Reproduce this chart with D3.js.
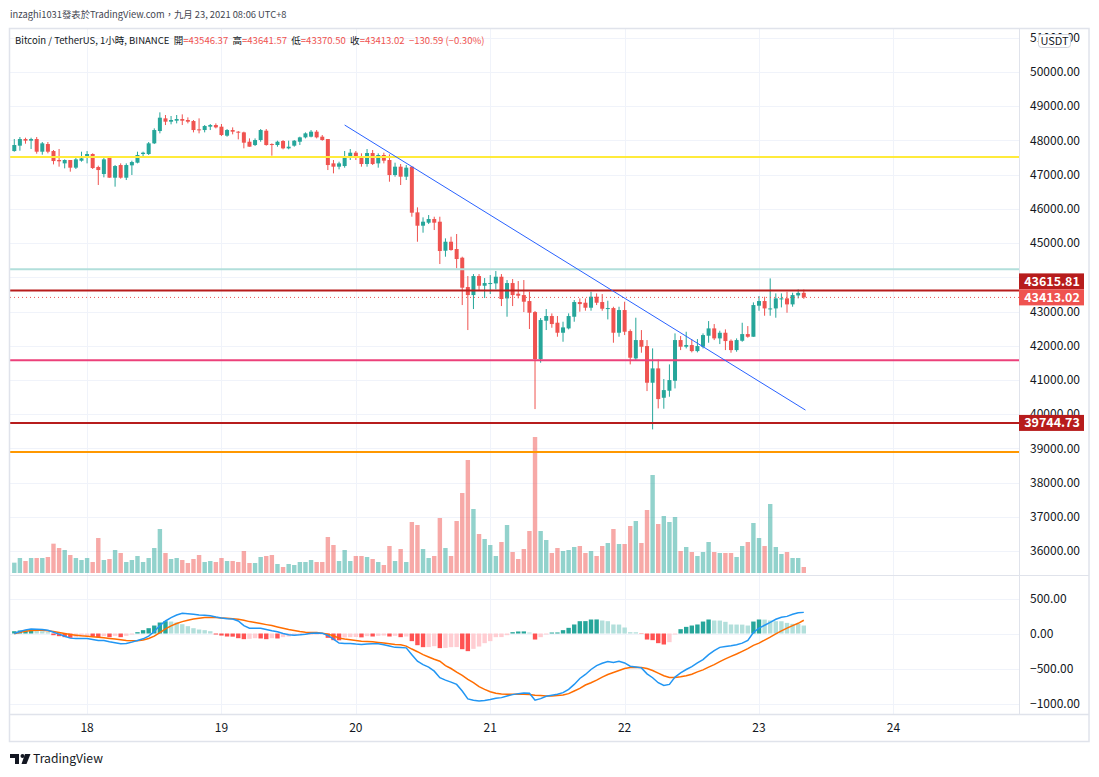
<!DOCTYPE html>
<html>
<head>
<meta charset="utf-8">
<script src="https://cdn.jsdelivr.net/npm/d3@7.9.0/dist/d3.min.js"></script>
<style>
  body { margin: 0; background: #fff; }
  svg { display: block; font-family: "Noto Sans CJK TC", "Noto Sans", sans-serif; }
</style>
</head>
<body>
<div id="chart"></div>
<script>
// hourly BTC/USDT candles, first bar 17 Sep 11:00, last bar 23 Sep 08:00
const opens = [47690,47847,48041,47993,48041,47671,47895,47690,47428,47330,47428,47204,47408,47505,47603,47223,47018,47505,46911,47281,
  46911,47272,47350,47603,47603,47915,48275,48645,48548,48577,48626,48597,48567,48324,48304,48402,48450,48402,48139,48304,
  48256,48236,47963,47866,48012,48285,47895,47866,47983,47769,47847,47963,48090,48110,48256,48110,48041,47330,47233,47252,
  47506,47642,47525,47311,47632,47330,47574,47428,46989,47233,46941,47233,45898,45508,45596,45703,45625,44777,45040,44826,
  44573,43715,43481,44037,43754,43803,43822,44017,43384,43832,43521,43481,43306,42984,41611,42731,42868,42673,42380,42507,
  42848,43277,43257,43111,43433,43277,43072,43101,42380,43043,42429,41630,42166,41991,40919,41338,40480,40685,40977,42166,
  41971,42020,41844,41971,42293,42507,42215,42380,42146,41873,42146,42341,42263,43170,43306,43062,43091,43355,43384,43209,
  43471,43546.37];
const highs = [48041,48100,48080,48080,48100,47954,47954,47720,47750,47447,47428,47545,47671,47690,47623,47262,47525,47544,47281,47330,
  47330,47408,47671,47671,47954,48353,48821,48743,48714,48743,48762,48674,48597,48645,48450,48480,48499,48480,48333,48382,
  48275,48256,48060,48060,48333,48333,47915,47993,48012,47993,48012,48110,48236,48304,48304,48158,48041,47428,47379,47691,
  47749,47691,47623,47749,47720,47623,47642,47593,47350,47311,47282,47233,46044,45752,45820,45771,45771,45138,45187,45265,
  44602,44037,44095,44095,43978,44066,44183,44095,43920,43949,43891,43920,43579,43014,42809,43072,42945,42868,42702,42946,
  43335,43384,43384,43579,43530,43510,43316,43140,43140,43287,42478,42819,42458,42166,41923,41601,41026,41455,42361,42283,
  42409,42185,42195,42361,42721,42634,42439,42478,42185,42215,42672,42575,43267,43452,43433,43968,43530,43530,43579,43549,
  43647,43641.57];
const lows = [47671,47700,47905,47750,47613,47584,47623,47300,47233,47184,47087,47165,47379,47330,47165,46698,46921,46911,46649,46883,
  46843,46990,47330,47525,47574,47895,48207,48450,48470,48499,48450,48499,48236,48207,48236,48304,48353,48129,48110,48178,
  48031,47769,47817,47837,47963,47847,47554,47817,47740,47740,47817,47866,48060,48090,48060,47993,47135,47038,47155,47204,
  47428,47428,47233,47233,47282,47204,47330,46794,46941,46697,46843,45771,45040,45304,45557,45382,44388,44602,44777,44261,
  43189,42459,43072,43628,43394,43511,43647,43160,42848,43160,43384,42984,42488,40149,41504,42459,42526,42263,42117,42478,
  42702,42994,43024,43024,43189,43024,42770,42088,42263,42312,41455,41581,41796,40675,39555,40169,40159,40510,40753,41873,
  41922,41806,41806,41922,42088,42166,42049,41873,41796,41825,42117,42234,42263,43023,42877,42877,42819,43121,42965,43140,
  43384,43370.50];
const closes = [47866,48041,47993,48041,47671,47915,47671,47398,47390,47428,47204,47447,47476,47603,47194,47135,47447,46911,47252,46911,
  47281,47369,47574,47642,47915,48304,48665,48548,48597,48626,48577,48548,48304,48304,48421,48450,48382,48158,48304,48256,
  48236,47934,47817,48012,48304,47866,47866,47963,47769,47817,47993,48090,48207,48256,48090,48012,47281,47233,47330,47545,
  47642,47506,47311,47632,47311,47574,47408,46989,47233,46941,47204,45888,45508,45625,45703,45596,44768,45040,44797,44534,
  43696,43481,44037,43754,43832,43832,44017,43365,43832,43481,43462,43287,42965,41611,42751,42868,42634,42380,42536,42868,
  43277,43218,43111,43433,43257,43082,43101,42380,43043,42410,41650,42166,41971,40919,41338,40441,40704,40997,42166,41971,
  42020,41844,41990,42312,42507,42215,42380,42137,41873,42166,42341,42263,43189,43306,43091,43091,43384,43384,43209,43481,
  43543.61,43413.02];
const volumes = [310,450,360,450,450,450,480,880,750,690,540,450,390,450,330,1050,390,420,690,600,
  330,390,510,330,450,750,1320,600,420,450,390,300,420,540,330,360,330,450,360,360,
  330,660,300,300,480,510,540,270,180,270,240,330,330,390,330,330,1080,840,360,690,
  360,510,510,480,420,330,240,810,360,720,330,1530,1440,720,450,510,1650,750,510,1560,
  2400,3390,1920,1170,1020,840,510,930,1440,630,420,720,1260,4080,1260,990,600,750,660,690,
  780,810,600,660,510,810,900,1320,870,870,1410,1560,900,1890,2940,1470,1710,1530,1680,660,
  780,630,510,630,930,630,600,600,600,480,810,930,1500,1050,810,2070,780,570,630,450,
  450,180];

// MACD (12, 26, close, 9)
const macdLine = [0,28,52,66,61,57,47,19,-9,-38,-66,-71,-71,-71,-85,-99,-99,-118,-132,-146,
  -142,-123,-99,-76,-38,28,113,179,227,264,288,283,274,264,260,255,236,222,212,208,
  179,113,76,76,76,57,38,24,0,-19,-24,-19,-9,5,9,5,-28,-80,-137,-142,
  -142,-151,-156,-151,-146,-146,-160,-179,-198,-200,-205,-302,-396,-444,-481,-538,-632,-666,-694,-727,
  -821,-935,-953,-963,-958,-944,-925,-916,-892,-873,-859,-850,-854,-953,-930,-897,-883,-868,-845,-798,
  -727,-642,-585,-514,-458,-425,-401,-415,-396,-420,-467,-477,-491,-576,-632,-703,-741,-727,-623,-562,
  -514,-472,-420,-373,-302,-245,-198,-184,-175,-160,-137,-99,14,76,118,160,203,231,245,274,
  297,302];
const signalLine = [-5,19,33,42,47,47,38,28,14,0,-14,-24,-33,-38,-47,-52,-61,-71,-80,-90,
  -99,-104,-104,-94,-71,-38,14,66,109,142,170,189,208,217,227,227,227,222,217,212,
  203,189,170,156,142,127,113,94,76,57,42,28,19,14,14,5,-9,-33,-66,-80,
  -90,-99,-109,-113,-118,-127,-137,-146,-156,-162,-180,-222,-260,-302,-335,-368,-396,-458,-500,-552,
  -599,-656,-703,-760,-798,-831,-854,-864,-868,-868,-868,-868,-873,-883,-887,-892,-892,-887,-878,-859,
  -821,-784,-736,-703,-666,-623,-585,-557,-529,-500,-486,-481,-486,-500,-529,-566,-604,-628,-628,-618,
  -604,-581,-548,-519,-481,-444,-401,-363,-326,-293,-255,-217,-170,-137,-94,-52,-5,38,76,113,
  146,189];
const macdHist = [33,43,48,62,43,33,19,-24,-38,-52,-62,-52,-43,-33,-48,-52,-38,-52,-33,-52,
  -33,-14,19,48,76,114,157,176,171,157,133,105,76,57,48,33,-14,-29,-43,-45,
  -67,-81,-76,-67,-71,-81,-67,-71,-52,-43,-33,-24,-19,-17,-15,-12,-62,-95,-97,-57,
  -52,-50,-55,-38,-43,-33,-29,-43,-33,-52,-43,-109,-167,-195,-194,-181,-209,-205,-195,-194,
  -224,-252,-219,-186,-138,-109,-52,-51,-24,19,29,30,14,-86,-52,-14,14,15,48,81,
  129,176,177,200,201,186,176,129,128,86,19,18,-5,-86,-95,-138,-157,-124,-14,62,
  95,114,129,171,200,186,185,167,129,128,127,114,171,200,199,186,176,175,152,138,
  137,114];

// drawings on the chart
const levelPrices = [47516, 44235, 43615.81, 41575, 39744.73, 38898];
const levelColors = ["#ffeb3b", "#b2dfdb", "#b71c1c", "#ec407a", "#b71c1c", "#ff9800"];
const trendTimes = [new Date(2021, 8, 19, 22, 0), new Date(2021, 8, 23, 8, 18)];
const trendPrices = [48450, 40120];

const priceTicks = d3.range(36000, 51001, 1000);
const macdTicks = [500, 0, -500, -1000];
const dayTicks = d3.timeDay.range(new Date(2021, 8, 18), new Date(2021, 8, 25));

const firstBar = new Date(2021, 8, 17, 11);
const times = opens.map((d, i) => d3.timeHour.offset(firstBar, i));

const W = 1099, H = 777;
const left = 10, right = 1019, outerRight = 1089;
const mainTop = 28, mainBottom = 575, macdBottom = 714, outerBottom = 741;

const up = "#26a69a", down = "#ef5350";
const gridColor = "#f0f3fa", borderColor = "#e0e3eb", textColor = "#131722";

const svg = d3.select("#chart").append("svg")
  .attr("width", W).attr("height", H)
  .attr("viewBox", `0 0 ${W} ${H}`);

svg.append("rect").attr("width", W).attr("height", H).attr("fill", "#fff");

const xScale = d3.scaleTime()
  .domain([new Date(2021, 8, 17, 10, 14), new Date(2021, 8, 24, 22, 26)])
  .range([left, right]);
const yScale = d3.scaleLinear().domain([35300, 51286]).range([mainBottom, mainTop]);
const volScale = d3.scaleLinear().domain([0, 4500]).range([573, 423]);
const macdScale = d3.scaleLinear().domain([-1150, 836]).range([macdBottom, mainBottom]);

// shrink a text until it is as wide as in the reference
function fitWidth(sel, target) {
  const size = +sel.attr("font-size");
  const w = sel.node().getComputedTextLength();
  if (w > target) sel.attr("font-size", (size * target) / w);
}

const defs = svg.append("defs");
defs.append("clipPath").attr("id", "clipMain")
  .append("rect").attr("x", left).attr("y", mainTop).attr("width", right - left).attr("height", mainBottom - mainTop);
defs.append("clipPath").attr("id", "clipMacd")
  .append("rect").attr("x", left).attr("y", mainBottom).attr("width", right - left).attr("height", macdBottom - mainBottom);

// gridlines
const grid = svg.append("g").attr("stroke", gridColor).attr("stroke-width", 1);
grid.selectAll("line.v").data(dayTicks).join("line").attr("class", "v")
  .attr("x1", (d) => Math.round(xScale(d)) + 0.5).attr("x2", (d) => Math.round(xScale(d)) + 0.5)
  .attr("y1", mainTop).attr("y2", macdBottom);
grid.selectAll("line.h").data(priceTicks).join("line").attr("class", "h")
  .attr("x1", left).attr("x2", right)
  .attr("y1", (d) => Math.round(yScale(d)) + 0.5).attr("y2", (d) => Math.round(yScale(d)) + 0.5);
grid.selectAll("line.m").data(macdTicks).join("line").attr("class", "m")
  .attr("x1", left).attr("x2", right)
  .attr("y1", (d) => Math.round(macdScale(d)) + 0.5).attr("y2", (d) => Math.round(macdScale(d)) + 0.5);

// main pane
const main = svg.append("g").attr("clip-path", "url(#clipMain)");
const bars = times.map((t, i) => ({
  t, o: opens[i], h: highs[i], l: lows[i], c: closes[i], v: volumes[i],
}));

main.append("g").selectAll("rect").data(bars).join("rect")
  .attr("x", (d) => xScale(d.t) - 2.2)
  .attr("width", 4.4)
  .attr("y", (d) => volScale(d.v))
  .attr("height", (d) => volScale(0) - volScale(d.v))
  .attr("fill", (d) => (d.c >= d.o ? "rgba(38,166,154,0.5)" : "rgba(239,83,80,0.5)"));

const candles = main.append("g").selectAll("g").data(bars).join("g");
candles.append("line")
  .attr("x1", (d) => xScale(d.t)).attr("x2", (d) => xScale(d.t))
  .attr("y1", (d) => yScale(d.h)).attr("y2", (d) => yScale(d.l))
  .attr("stroke", (d) => (d.c >= d.o ? up : down)).attr("stroke-width", 1);
candles.append("rect")
  .attr("x", (d) => xScale(d.t) - 2)
  .attr("width", 4)
  .attr("y", (d) => yScale(Math.max(d.o, d.c)))
  .attr("height", (d) => Math.max(1, Math.abs(yScale(d.o) - yScale(d.c))))
  .attr("fill", (d) => (d.c >= d.o ? up : down));

// horizontal levels
main.append("g").selectAll("line").data(levelPrices).join("line")
  .attr("x1", left).attr("x2", right)
  .attr("y1", (d) => yScale(d)).attr("y2", (d) => yScale(d))
  .attr("stroke", (d, i) => levelColors[i]).attr("stroke-width", 2);

// last price dotted line
const lastClose = closes[closes.length - 1];
main.append("line")
  .attr("x1", left).attr("x2", right)
  .attr("y1", yScale(lastClose)).attr("y2", yScale(lastClose))
  .attr("stroke", down).attr("stroke-width", 1).attr("stroke-dasharray", "1,3");

// trend line
main.append("line")
  .attr("x1", xScale(trendTimes[0])).attr("y1", yScale(trendPrices[0]))
  .attr("x2", xScale(trendTimes[1])).attr("y2", yScale(trendPrices[1]))
  .attr("stroke", "#2962ff").attr("stroke-width", 1);

// MACD pane
const macdG = svg.append("g").attr("clip-path", "url(#clipMacd)");
macdG.append("g").selectAll("rect").data(macdHist).join("rect")
  .attr("x", (d, i) => xScale(times[i]) - 2.2)
  .attr("width", 4.4)
  .attr("y", (d) => macdScale(Math.max(0, d)))
  .attr("height", (d) => Math.abs(macdScale(d) - macdScale(0)))
  .attr("fill", (d, i) => {
    const prev = i > 0 ? macdHist[i - 1] : d - 1;
    if (d >= 0) return d > prev ? "#26a69a" : "#b2dfdb";
    return d < prev ? "#ff5252" : "#ffcdd2";
  });

const line = (vals) => d3.line().x((d, i) => xScale(times[i])).y((d) => macdScale(d))(vals);
macdG.append("path").attr("d", line(signalLine))
  .attr("fill", "none").attr("stroke", "#ff6d00").attr("stroke-width", 1.5);
macdG.append("path").attr("d", line(macdLine))
  .attr("fill", "none").attr("stroke", "#2196f3").attr("stroke-width", 1.5);

// frame
const frame = svg.append("g").attr("stroke", borderColor).attr("fill", "none");
frame.append("rect").attr("x", left - 0.5).attr("y", mainTop + 0.5)
  .attr("width", outerRight - left + 0.5).attr("height", outerBottom - mainTop).attr("stroke-width", 1.5);
frame.append("line").attr("x1", right + 0.5).attr("x2", right + 0.5).attr("y1", mainTop).attr("y2", macdBottom);
frame.append("line").attr("x1", left).attr("x2", outerRight).attr("y1", mainBottom + 0.5).attr("y2", mainBottom + 0.5);
frame.append("line").attr("x1", left).attr("x2", outerRight).attr("y1", macdBottom + 0.5).attr("y2", macdBottom + 0.5).attr("stroke-width", 1.5);

// price tags on the axis (worked out first so fully covered tick labels can be skipped)
const fmt = d3.format(".2f");
const minus = (s) => s.replace("-", "\u2212");
const tags = [
  { v: levelPrices[2], fill: "#b71c1c" },
  { v: lastClose, fill: down },
  { v: levelPrices[4], fill: "#b71c1c" },
].map((d) => ({ ...d, y: yScale(d.v) }));
if (tags[1].y - tags[0].y < 16) tags[0].y = tags[1].y - 16;

// price axis labels
const shownTicks = priceTicks.filter((p) => !tags.some((t) => Math.abs(t.y - yScale(p)) < 6));
svg.append("g").selectAll("text").data(shownTicks).join("text")
  .attr("x", 1030).attr("y", (d) => yScale(d))
  .attr("dy", "0.35em").attr("font-size", 12).attr("fill", textColor)
  .text((d) => fmt(d));
svg.append("g").selectAll("text").data(macdTicks).join("text")
  .attr("x", 1030).attr("y", (d) => macdScale(d))
  .attr("dy", "0.35em").attr("font-size", 12).attr("fill", textColor)
  .text((d) => minus(fmt(d)));

// currency badge
svg.append("rect").attr("x", 1038.5).attr("y", 34.5).attr("width", 32).attr("height", 13).attr("rx", 3)
  .attr("fill", "#fff").attr("stroke", "#d1d4dc");
svg.append("text").attr("x", 1054.5).attr("y", 41).attr("dy", "0.35em")
  .attr("text-anchor", "middle").attr("font-size", 11).attr("fill", textColor).text("USDT");

const tagG = svg.append("g").selectAll("g").data(tags).join("g")
  .attr("transform", (d) => `translate(1019, ${d.y - 8})`);
tagG.append("rect").attr("width", 65).attr("height", 16).attr("fill", (d) => d.fill);
tagG.append("text").attr("x", 33).attr("y", 8).attr("dy", "0.36em")
  .attr("text-anchor", "middle").attr("font-size", 12.5).attr("font-weight", 700)
  .attr("fill", "#fff").text((d) => fmt(d.v));

// time axis
svg.append("g").selectAll("text").data(dayTicks).join("text")
  .attr("x", (d) => xScale(d)).attr("y", 728).attr("dy", "0.35em")
  .attr("text-anchor", "middle").attr("font-size", 12).attr("fill", textColor)
  .text((d) => d3.timeFormat("%-d")(d));

// header
const header = svg.append("text").attr("x", 10).attr("y", 15).attr("dy", "0.35em")
  .attr("font-size", 12).attr("fill", "#434651")
  .text("inzaghi1031發表於TradingView.com，九月 23, 2021 08:06 UTC+8");
fitWidth(header, 277);

const prevClose = closes[closes.length - 2];
const change = lastClose - prevClose;
const legendParts = [
  ["Bitcoin / TetherUS, 1小時, BINANCE  ", textColor],
  ["開", textColor], ["=" + fmt(opens[opens.length - 1]) + "  ", down],
  ["高", textColor], ["=" + fmt(highs[highs.length - 1]) + "  ", down],
  ["低", textColor], ["=" + fmt(lows[lows.length - 1]) + "  ", down],
  ["收", textColor], ["=" + fmt(lastClose) + "  ", down],
  [minus(fmt(change)) + " (" + minus(fmt((change / prevClose) * 100)) + "%)", down],
];
const legend = svg.append("text").attr("x", 15).attr("y", 41).attr("dy", "0.35em")
  .attr("font-size", 12.5).style("white-space", "pre");
legend.selectAll("tspan").data(legendParts).join("tspan")
  .attr("fill", (d) => d[1]).text((d) => d[0]);
fitWidth(legend, 470);

// logo
const logo = svg.append("g").attr("fill", textColor);
logo.append("path").attr("d", "M10,754 H19 V764 H15 V758 H10 Z");
logo.append("circle").attr("cx", 22.5).attr("cy", 756).attr("r", 2);
logo.append("path").attr("d", "M25,754 H30.5 L26.5,764 H21.5 Z");
const brand = svg.append("text").attr("x", 33).attr("y", 759).attr("dy", "0.35em")
  .attr("font-size", 14).attr("fill", textColor).text("TradingView");
fitWidth(brand, 70);
</script>
</body>
</html>
